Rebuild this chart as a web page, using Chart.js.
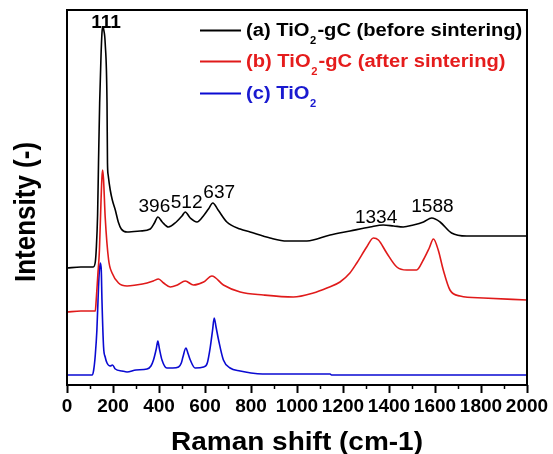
<!DOCTYPE html>
<html>
<head>
<meta charset="utf-8">
<script src="https://cdn.jsdelivr.net/npm/chart.js@4.4.1/dist/chart.umd.min.js"></script>
<style>
  html, body { margin: 0; padding: 0; background: #fff; }
  #wrap { width: 553px; height: 454px; position: relative; }
</style>
</head>
<body>
<div id="wrap"><canvas id="raman"></canvas></div>
<script>
// Raman shift (cm-1) and intensity (arbitrary, curves already offset)
var shiftA = [0, 60, 114, 123, 127, 133, 137, 142, 148, 153, 157, 160, 166, 174, 176, 179, 188, 197, 210, 223, 236, 261, 318, 362, 380, 395, 414, 441, 475, 500, 514, 536, 565, 596, 615, 634, 657, 695, 753, 796, 883, 956, 1043, 1144, 1231, 1318, 1375, 1420, 1462, 1506, 1550, 1586, 1622, 1672, 1738, 1882, 2000];
var intA   = [117, 118, 118, 123, 135, 170, 222, 282, 330, 355, 358, 355, 342, 282, 222, 210, 195, 185, 175, 163, 156, 153, 154, 156, 162, 168, 163, 158, 163, 169, 173, 167, 163, 170, 176, 182, 175, 163, 156, 153, 147, 144, 144, 150, 154, 158, 160, 159, 158, 160, 163, 167, 163, 152, 149, 149, 149];

var shiftB = [0, 60, 123, 127, 134, 141, 148, 152, 155, 159, 166, 181, 196, 224, 261, 300, 348, 375, 398, 420, 449, 480, 514, 550, 594, 630, 680, 753, 854, 984, 1071, 1130, 1187, 1230, 1260, 1303, 1332, 1354, 1390, 1434, 1477, 1520, 1549, 1575, 1593, 1614, 1636, 1665, 1709, 1810, 2000];
var intB   = [73, 74, 74, 85, 110, 135, 185, 208, 215, 205, 168, 125, 112, 102, 99, 100, 102, 104, 106, 102, 98, 100, 104, 100, 103, 109, 100, 93, 90, 88, 92, 97, 103, 112, 122, 138, 147, 145, 132, 118, 115, 115, 125, 137, 146, 135, 115, 95, 89, 87, 85];

var shiftC = [0, 60, 109, 116, 123, 130, 137, 141, 145, 149, 152, 159, 166, 174, 188, 198, 210, 240, 261, 300, 348, 365, 376, 388, 395, 402, 413, 434, 460, 485, 497, 504, 517, 527, 536, 557, 594, 610, 623, 633, 640, 648, 659, 680, 709, 753, 800, 850, 1000, 1144, 1150, 1500, 2000];
var intC   = [10, 10, 10, 15, 30, 55, 98, 115, 122, 115, 85, 38, 28, 22, 19, 20, 16, 14, 13, 15, 16, 19, 25, 36, 44, 36, 25, 17, 17, 18, 22, 28, 37, 31, 25, 17, 18, 22, 38, 55, 67, 58, 45, 25, 17, 14, 12, 11, 11, 11, 10, 10, 10];

var seriesLabels = ['(a) TiO\u2082-gC (before sintering)', '(b) TiO\u2082-gC (after sintering)', '(c) TiO\u2082'];
var seriesColors = ['#000000', '#e01a1a', '#0a0ad2'];
var legendTextColors = ['#000000', '#e51c1c', '#1a1ad0'];

// peak annotations: label, position (shift, intensity)
var peakLabels = ['111', '396', '512', '637', '1334', '1588'];
var peakLabelX = [170, 380, 520, 662, 1344, 1589];
var peakLabelY = [363, 179, 183, 193, 167.5, 179];

var FONT = "'Liberation Sans', Arial, sans-serif";
var SX = 1.12; // the figure's lettering is a bit wide

function toPoints(xs, ys) {
    return xs.map(function (x, i) { return { x: x, y: ys[i] }; });
}

function stretchedText(ctx, text, x, y, font, color, align, sx) {
    ctx.save();
    ctx.translate(x, y);
    ctx.scale(sx || SX, 1);
    ctx.font = font;
    ctx.fillStyle = color;
    ctx.textAlign = align || 'left';
    ctx.fillText(text, 0, 0);
    ctx.restore();
}

// writes "TiO₂" with a real lowered small 2
function legendText(ctx, label, x, y, color) {
    var parts = label.split('\u2082');
    ctx.save();
    ctx.translate(x, y);
    ctx.scale(SX, 1);
    ctx.fillStyle = color;
    ctx.textAlign = 'left';
    ctx.textBaseline = 'alphabetic';
    var cx = 0;
    parts.forEach(function (p, i) {
        ctx.font = 'bold 18px ' + FONT;
        ctx.fillText(p, cx, 0);
        cx += ctx.measureText(p).width;
        if (i < parts.length - 1) {
            ctx.font = 'bold 10px ' + FONT;
            ctx.fillText('2', cx + 0.5, 7.5);
            cx += ctx.measureText('2').width + 1.5;
        }
    });
    ctx.restore();
}

var decor = {
    id: 'decor',
    afterDatasetsDraw: function (chart) {
        var ctx = chart.ctx;
        var a = chart.chartArea;
        var xs = chart.scales.x;
        var ys = chart.scales.y;

        // frame
        ctx.save();
        ctx.strokeStyle = '#000';
        ctx.lineWidth = 2;
        ctx.strokeRect(a.left, a.top, a.right - a.left, a.bottom - a.top);

        // minor ticks
        ctx.lineWidth = 1.5;
        for (var v = 100; v < 2000; v += 200) {
            var px = Math.round(xs.getPixelForValue(v)) + 0.5;
            ctx.beginPath();
            ctx.moveTo(px, a.bottom);
            ctx.lineTo(px, a.bottom + 4);
            ctx.stroke();
        }
        ctx.restore();

        // legend, top right inside the frame
        var rows = [36, 67, 99];
        chart.data.datasets.forEach(function (ds, i) {
            ctx.save();
            ctx.strokeStyle = ds.borderColor;
            ctx.lineWidth = 2;
            ctx.beginPath();
            ctx.moveTo(200, rows[i] - 5.5);
            ctx.lineTo(241, rows[i] - 5.5);
            ctx.stroke();
            ctx.restore();
            legendText(ctx, ds.label, 246, rows[i], legendTextColors[i]);
        });

        // peak labels
        ctx.save();
        ctx.textBaseline = 'middle';
        peakLabels.forEach(function (t, i) {
            var f = (i === 0 ? 'bold ' : '') + '18px ' + FONT;
            stretchedText(ctx, t, xs.getPixelForValue(peakLabelX[i]), ys.getPixelForValue(peakLabelY[i]) + 1, f, '#000', 'center', 1.06);
        });
        ctx.restore();

        // axis titles
        ctx.save();
        ctx.textBaseline = 'alphabetic';
        stretchedText(ctx, 'Raman shift (cm-1)', (a.left + a.right) / 2, 450, 'bold 25px ' + FONT, '#000', 'center');
        ctx.restore();

        ctx.save();
        ctx.translate(35, 212);
        ctx.scale(SX, 1);
        ctx.rotate(-Math.PI / 2);
        ctx.font = 'bold 26px ' + FONT;
        ctx.fillStyle = '#000';
        ctx.textAlign = 'center';
        ctx.textBaseline = 'alphabetic';
        ctx.fillText('Intensity (-)', 0, 0);
        ctx.restore();
    }
};

var datasets = [
    toPoints(shiftA, intA),
    toPoints(shiftB, intB),
    toPoints(shiftC, intC)
].map(function (pts, i) {
    return {
        label: seriesLabels[i],
        data: pts,
        borderColor: seriesColors[i],
        backgroundColor: seriesColors[i],
        borderWidth: 1.6,
        pointRadius: 0,
        cubicInterpolationMode: 'monotone',
        fill: false
    };
});

new Chart(document.getElementById('raman'), {
    type: 'line',
    data: { datasets: datasets },
    options: {
        responsive: true,
        maintainAspectRatio: false,
        animation: false,
        layout: { padding: { left: 67, right: 26, top: 10, bottom: 0 } },
        plugins: { legend: { display: false }, tooltip: { enabled: false } },
        scales: {
            x: {
                type: 'linear',
                min: 0,
                max: 2000,
                border: { display: false },
                grid: { drawOnChartArea: false, drawTicks: true, tickLength: 8, tickColor: '#000', tickWidth: 2 },
                ticks: {
                    stepSize: 200,
                    autoSkip: false,
                    maxRotation: 0,
                    padding: 2,
                    color: '#000',
                    font: { family: FONT, size: 19, weight: 'bold' },
                    callback: function (value) { return String(value); }
                },
                afterFit: function (s) { s.height = 69; }
            },
            y: {
                type: 'linear',
                min: 0,
                max: 375,
                display: false
            }
        }
    },
    plugins: [decor]
});
</script>
</body>
</html>
